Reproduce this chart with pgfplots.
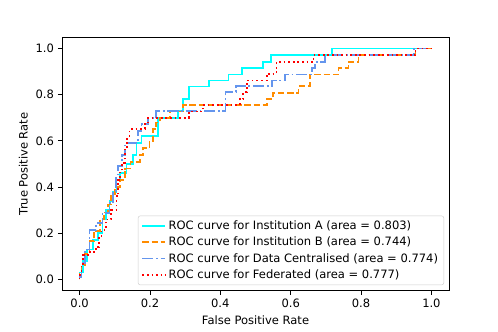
\documentclass[border=0pt]{standalone}
\usepackage{fontspec}
\setmainfont{DejaVu Sans}
\usepackage{pgfplots}
\pgfplotsset{compat=1.18}
\definecolor{mplcyan}{RGB}{0,255,255}
\definecolor{mplorange}{RGB}{255,140,0}
\definecolor{mplblue}{RGB}{100,149,237}
\definecolor{mplred}{RGB}{255,0,0}
\begin{document}
\fontsize{10}{12}\selectfont
\begin{tikzpicture}
\begin{axis}[
  scale only axis, width=335.7pt, height=220.3pt,
  xmin=-0.05, xmax=1.05, ymin=-0.05, ymax=1.05,
  xtick={0,0.2,0.4,0.6,0.8,1.0}, ytick={0,0.2,0.4,0.6,0.8,1.0},
  xtick pos=bottom, ytick pos=left, tick align=outside,
  major tick length=3.5pt,
  tick style={black, line width=0.8pt},
  axis line style={line width=0.8pt},
  /pgf/number format/.cd, fixed, fixed zerofill, precision=1, assume math mode=true,
  /pgfplots/.cd,
  tick label style={font=\fontsize{10}{12}\selectfont},
  label style={font=\fontsize{10}{12}\selectfont},
  xlabel={False Positive Rate}, ylabel={True Positive Rate},
  legend cell align=left,
  legend style={at={(1,0)}, anchor=south east, xshift=-4.3pt, yshift=5pt,
    draw=black!20, rounded corners=2pt, fill=white, fill opacity=0.8, text opacity=1,
    font=\fontsize{10}{12}\selectfont, row sep=1.2pt, inner xsep=3pt, inner ysep=2pt},
  legend image code/.code={\draw[#1] (0pt,0pt) -- (20pt,0pt);},
]
\addplot[mplcyan, line width=1.5pt] coordinates {
(0,0)(0,0.03)(0.01,0.03)(0.01,0.08)(0.02,0.08)(0.02,0.13)(0.038,0.13)(0.038,0.17)
(0.052,0.17)(0.052,0.20)(0.065,0.20)(0.065,0.26)(0.075,0.26)(0.075,0.30)(0.085,0.30)
(0.085,0.34)(0.095,0.34)(0.095,0.38)(0.105,0.38)(0.105,0.43)(0.114,0.43)(0.114,0.46)
(0.133,0.46)(0.133,0.50)(0.152,0.50)(0.152,0.54)(0.162,0.54)(0.162,0.59)(0.176,0.59)
(0.176,0.62)(0.223,0.62)(0.223,0.70)(0.28,0.70)(0.28,0.73)(0.294,0.73)(0.294,0.78)
(0.31,0.78)(0.31,0.835)(0.368,0.835)(0.368,0.862)(0.423,0.862)(0.423,0.888)(0.461,0.888)
(0.461,0.916)(0.522,0.916)(0.522,0.942)(0.545,0.942)(0.545,0.971)(0.717,0.971)(0.717,1.0)(1,1)};
\addlegendentry{ROC curve for Institution A (area = 0.803)}
\addplot[mplorange, line width=1.5pt, dash pattern=on 5.55pt off 2.4pt] coordinates {
(0,0)(0,0.03)(0.005,0.03)(0.005,0.06)(0.015,0.06)(0.015,0.11)(0.028,0.11)(0.028,0.165)
(0.04,0.165)(0.04,0.21)(0.057,0.21)(0.057,0.26)(0.07,0.26)(0.07,0.29)(0.081,0.29)
(0.081,0.325)(0.09,0.325)(0.09,0.37)(0.1,0.37)(0.1,0.40)(0.114,0.40)(0.114,0.43)
(0.128,0.43)(0.128,0.48)(0.145,0.48)(0.145,0.51)(0.171,0.51)(0.171,0.54)(0.18,0.54)
(0.18,0.57)(0.199,0.57)(0.199,0.60)(0.209,0.60)(0.209,0.65)(0.218,0.65)(0.218,0.68)
(0.228,0.68)(0.228,0.70)(0.256,0.70)(0.256,0.727)(0.294,0.727)(0.294,0.755)(0.532,0.755)
(0.532,0.782)(0.55,0.782)(0.55,0.808)(0.622,0.808)(0.622,0.837)(0.655,0.837)(0.655,0.888)
(0.736,0.888)(0.736,0.916)(0.764,0.916)(0.764,0.942)(0.793,0.942)(0.793,0.971)(0.955,0.971)
(0.955,1.0)(1,1)};
\addlegendentry{ROC curve for Institution B (area = 0.744)}
\addplot[mplblue, line width=1.5pt, dash pattern=on 9.6pt off 2.4pt on 1.5pt off 2.4pt] coordinates {
(0,0)(0,0.01)(0.005,0.01)(0.005,0.07)(0.015,0.07)(0.015,0.13)(0.028,0.13)(0.028,0.214)
(0.047,0.214)(0.047,0.243)(0.065,0.243)(0.065,0.287)(0.085,0.287)(0.085,0.33)(0.095,0.33)
(0.095,0.374)(0.104,0.374)(0.104,0.454)(0.109,0.454)(0.109,0.49)(0.12,0.49)(0.12,0.54)
(0.13,0.54)(0.13,0.592)(0.166,0.592)(0.166,0.643)(0.176,0.643)(0.176,0.672)(0.195,0.672)
(0.195,0.70)(0.218,0.70)(0.218,0.731)(0.415,0.731)(0.415,0.811)(0.445,0.811)(0.445,0.837)
(0.546,0.837)(0.546,0.862)(0.584,0.862)(0.584,0.888)(0.66,0.888)(0.66,0.916)(0.67,0.916)
(0.67,0.942)(0.698,0.942)(0.698,0.971)(0.95,0.971)(0.95,1.0)(1,1)};
\addlegendentry{ROC curve for Data Centralised (area = 0.774)}
\addplot[mplred, line width=1.5pt, dash pattern=on 1.5pt off 2.475pt] coordinates {
(0,0)(0,0.02)(0.005,0.02)(0.005,0.06)(0.01,0.06)(0.01,0.105)(0.03,0.105)(0.03,0.12)
(0.047,0.12)(0.047,0.141)(0.055,0.141)(0.055,0.18)(0.062,0.18)(0.062,0.214)(0.075,0.214)
(0.075,0.26)(0.09,0.26)(0.09,0.30)(0.105,0.30)(0.105,0.36)(0.11,0.36)(0.11,0.43)
(0.115,0.43)(0.115,0.47)(0.12,0.47)(0.12,0.505)(0.128,0.505)(0.128,0.563)(0.135,0.563)
(0.135,0.61)(0.142,0.61)(0.142,0.651)(0.185,0.651)(0.185,0.68)(0.195,0.68)(0.195,0.70)
(0.31,0.70)(0.31,0.727)(0.35,0.727)(0.35,0.755)(0.455,0.755)(0.455,0.782)(0.465,0.782)
(0.465,0.811)(0.475,0.811)(0.475,0.862)(0.532,0.862)(0.532,0.891)(0.56,0.891)(0.56,0.942)
(0.665,0.942)(0.665,0.971)(0.955,0.971)(0.955,1.0)(1,1)};
\addlegendentry{ROC curve for Federated (area = 0.777)}
\end{axis}
\path[use as bounding box] ([xshift=-53.8pt,yshift=-35.6pt]current axis.south west)
  rectangle ([xshift=42.5pt,yshift=32.1pt]current axis.north east);
\end{tikzpicture}
\end{document}
